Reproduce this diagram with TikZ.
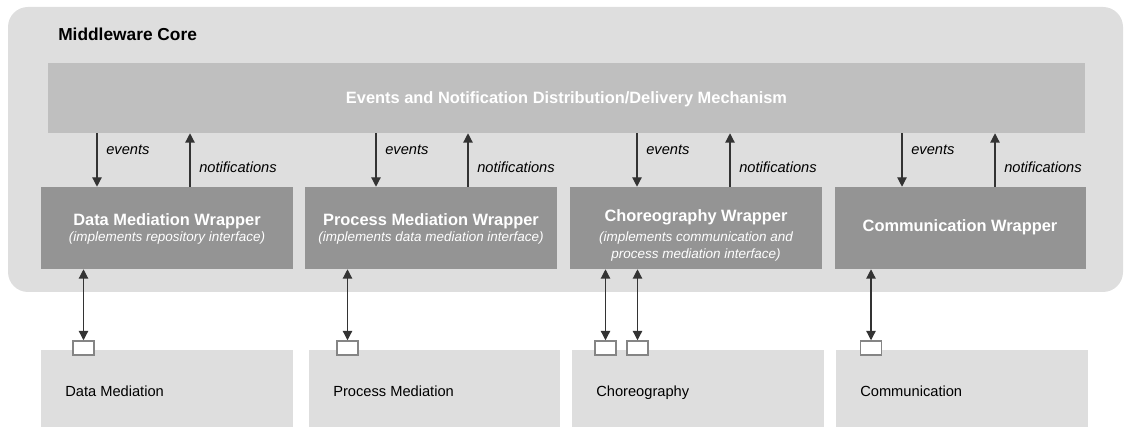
\documentclass[tikz,border=0pt]{standalone}
\usepackage{fontspec}
\setmainfont{Liberation Sans}
\usetikzlibrary{arrows.meta,fit}
\definecolor{outerg}{HTML}{DEDEDE}
\definecolor{barg}{HTML}{BFBFBF}
\definecolor{wrapg}{HTML}{949494}
\definecolor{portg}{HTML}{858585}
\definecolor{arrg}{HTML}{333333}
\begin{document}
\begin{tikzpicture}[x=0.75pt,y=-0.75pt,
  panel/.style={fit={#1}, inner sep=0pt, draw=none},
  wtitle/.style={anchor=base, inner sep=0pt, text=white, font=\fontsize{12.3}{14}\selectfont\bfseries},
  wsub/.style={anchor=base, inner sep=0pt, text=white, font=\fontsize{10.1}{12}\selectfont\itshape},
  lbl/.style={anchor=base west, inner sep=0pt, font=\fontsize{11}{13}\selectfont\itshape},
  blbl/.style={anchor=base west, inner sep=0pt, font=\fontsize{11}{13}\selectfont},
  port/.style={draw=portg, line width=1.1pt, fill=white, inner sep=0pt, minimum width=15.75pt, minimum height=10.5pt},
  arr/.style={draw=arrg, line width=0.9pt, -{Triangle[length=7pt,width=7pt]}},
  dbl/.style={draw=arrg, line width=0.9pt, {Triangle[length=7pt,width=7pt]}-{Triangle[length=7pt,width=7pt]}}
]
\useasboundingbox (0,0) rectangle (1124,427);
% outer
\fill[outerg, rounded corners=15pt] (8,7) rectangle (1123,292);
\node[anchor=base west, inner sep=0pt, font=\fontsize{13}{15}\selectfont\bfseries] (core) at (58,41) {Middleware Core};
% mechanism bar
\node[panel={(48,63)(1085,133)}, fill=barg] (mech) {};
\node[wtitle] (mecht) at (566.5,103.3) {Events and Notification Distribution/Delivery Mechanism};
% wrappers
\node[panel={(41,187)(293,269)}, fill=wrapg] (w1) {};
\node[panel={(305,187)(557,269)}, fill=wrapg] (w2) {};
\node[panel={(570,187)(822,269)}, fill=wrapg] (w3) {};
\node[panel={(835,187)(1086,269)}, fill=wrapg] (w4) {};
\node[wtitle] (w1t) at (167,225.7) {Data Mediation Wrapper};
\node[wsub] (w1s) at (167,242) {(implements repository interface)};
\node[wtitle] (w2t) at (431,225.7) {Process Mediation Wrapper};
\node[wsub] (w2s) at (431,242) {(implements data mediation interface)};
\node[wtitle] (w3t) at (696,222) {Choreography Wrapper};
\node[wsub] (w3s) at (696,241.5) {(implements communication and};
\node[wsub] (w3s2) at (696,259) {process mediation interface)};
\node[wtitle] (w4t) at (960,231.3) {Communication Wrapper};
% bottom components
\node[panel={(41,350)(293,427)}, fill=outerg] (b1) {};
\node[panel={(309,350)(560,427)}, fill=outerg] (b2) {};
\node[panel={(572,350)(824,427)}, fill=outerg] (b3) {};
\node[panel={(836,350)(1088,427)}, fill=outerg] (b4) {};
\node[blbl] (b1t) at (65,396.7) {Data Mediation};
\node[blbl] (b2t) at (333,396.7) {Process Mediation};
\node[blbl] (b3t) at (596,396.7) {Choreography};
\node[blbl] (b4t) at (860,396.7) {Communication};
% ports
\node[port] (p1) at (83.5,348) {};
\node[port] (p2) at (347.5,348) {};
\node[port] (p3a) at (605.5,348) {};
\node[port] (p3b) at (637.5,348) {};
\node[port] (p4) at (871,348) {};
\draw[dbl] (w1.south -| p1) -- (p1.north);
\draw[dbl] (w2.south -| p2) -- (p2.north);
\draw[dbl] (w3.south -| p3a) -- (p3a.north);
\draw[dbl] (w3.south -| p3b) -- (p3b.north);
\draw[dbl] (w4.south -| p4) -- (p4.north);
% events / notifications
\foreach \i/\e/\n in {1/97/190, 2/376/468, 3/637/730, 4/902/995}{
  \coordinate (e\i) at (\e,160);
  \coordinate (n\i) at (\n,160);
  \draw[arr] (mech.south -| e\i) -- (w\i.north -| e\i);
  \draw[arr] (w\i.north -| n\i) -- (mech.south -| n\i);
  \node[lbl] (el\i) at (\e+9,155) {events};
  \node[lbl] (nl\i) at (\n+9,172.3) {notifications};
}
\end{tikzpicture}
\end{document}
